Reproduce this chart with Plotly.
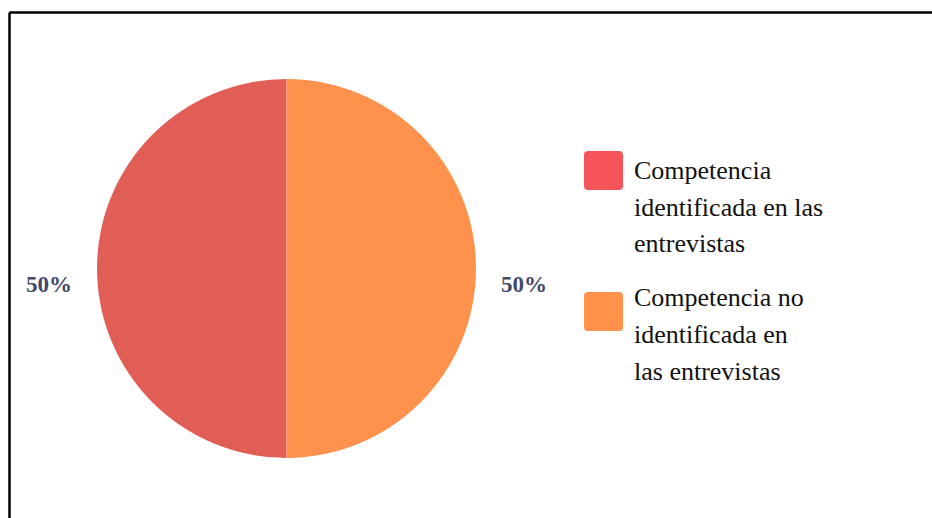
import plotly.graph_objects as go

# Data
categories = [
    "Competencia identificada en las entrevistas",
    "Competencia no identificada en las entrevistas",
]
values = [50, 50]
legend_lines = [
    ["Competencia", "identificada en las", "entrevistas"],
    ["Competencia no", "identificada en", "las entrevistas"],
]
slice_colors = ["#E15E57", "#FE914C"]
swatch_colors = ["#F5555A", "#FF914B"]

W, H = 932, 518

def px(x):
    return x / W

def py(y):
    return 1 - y / H

# Slices run counterclockwise from 12 o'clock: the first category fills the left half
fig = go.Figure(
    go.Pie(
        labels=categories,
        values=values,
        sort=False,
        direction="counterclockwise",
        rotation=180,
        marker=dict(colors=slice_colors, line=dict(width=0)),
        textinfo="none",
        hoverinfo="label+percent",
        showlegend=False,
        domain=dict(x=[px(97), px(476)], y=[py(459), py(78)]),
    )
)

total = sum(values)
pct_text = [f"{round(v / total * 100)}%" for v in values]
pct_x = [49, 524]

annotations = []
for t, x in zip(pct_text, pct_x):
    annotations.append(dict(
        x=px(x), y=py(284), xref="paper", yref="paper",
        text=t, showarrow=False, xanchor="center", yanchor="middle",
        font=dict(family="Liberation Serif", size=23, color="#43486A", weight="bold"),
    ))

shapes = []
swatch_tops = [151, 292]
text_tops = [170, 297]
line_gap = 37
for lines, top, ttop, col in zip(legend_lines, swatch_tops, text_tops, swatch_colors):
    x0, x1, y0, y1 = 584, 623, top, top + 39
    r = 4
    path = (
        f"M {px(x0 + r)},{py(y0)} L {px(x1 - r)},{py(y0)} "
        f"Q {px(x1)},{py(y0)} {px(x1)},{py(y0 + r)} "
        f"L {px(x1)},{py(y1 - r)} Q {px(x1)},{py(y1)} {px(x1 - r)},{py(y1)} "
        f"L {px(x0 + r)},{py(y1)} Q {px(x0)},{py(y1)} {px(x0)},{py(y1 - r)} "
        f"L {px(x0)},{py(y0 + r)} Q {px(x0)},{py(y0)} {px(x0 + r)},{py(y0)} Z"
    )
    shapes.append(dict(type="path", path=path, xref="paper", yref="paper",
                       fillcolor=col, line=dict(width=0)))
    for i, ln in enumerate(lines):
        annotations.append(dict(
            x=px(632), y=py(ttop + i * line_gap), xref="paper", yref="paper",
            text=ln, showarrow=False, xanchor="left", yanchor="middle",
            font=dict(family="Liberation Serif", size=26, color="#111111"),
        ))

# Frame lines along the top and left edges
shapes.append(dict(type="line", xref="paper", yref="paper",
                   x0=px(9.5), x1=1.01, y0=py(12.5), y1=py(12.5),
                   line=dict(color="#000000", width=2.5)))
shapes.append(dict(type="line", xref="paper", yref="paper",
                   x0=px(9.5), x1=px(9.5), y0=py(12.5), y1=-0.01,
                   line=dict(color="#000000", width=2.5)))

fig.update_layout(
    width=W, height=H,
    margin=dict(l=0, r=0, t=0, b=0),
    paper_bgcolor="white",
    plot_bgcolor="white",
    annotations=annotations,
    shapes=shapes,
)

fig.write_html("out.html")
